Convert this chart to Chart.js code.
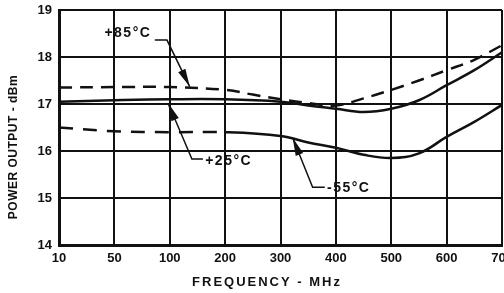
<!DOCTYPE html>
<html>
<head>
<script src="https://cdn.jsdelivr.net/npm/chart.js@4"></script>
<style>
  html, body { margin: 0; padding: 0; background: #fff; }
  #wrap { width: 504px; height: 293px; }
</style>
</head>
<body>
<div id="wrap"><canvas id="powerChart"></canvas></div>
<script>
  // tick labels (MHz), drawn evenly spaced like the original
  const freqTicks = [10, 50, 100, 200, 300, 400, 500, 600, 700];

  // +85 C (dashed)
  const hotFreq = [10, 50, 100, 200, 250, 300, 350, 400, 450, 500, 550, 600, 650, 700];
  const hotPower = [17.35, 17.36, 17.36, 17.3, 17.2, 17.1, 17.02, 16.97, 17.12, 17.3, 17.5, 17.72, 17.94, 18.25];

  // +25 C (solid)
  const roomFreq = [10, 50, 100, 200, 300, 350, 400, 450, 500, 550, 600, 650, 700];
  const roomPower = [17.05, 17.08, 17.1, 17.1, 17.05, 16.97, 16.9, 16.83, 16.9, 17.08, 17.4, 17.72, 18.1];

  // -55 C (dashed at low end, then solid)
  const coldFreq = [10, 50, 100, 200, 300, 350, 400, 450, 500, 550, 600, 650, 700];
  const coldPower = [16.5, 16.42, 16.4, 16.4, 16.32, 16.18, 16.07, 15.92, 15.85, 15.95, 16.3, 16.62, 16.98];

  // piecewise map MHz -> evenly spaced tick position
  function freqToPos(f) {
    for (let i = 0; i < freqTicks.length - 1; i++) {
      if (f <= freqTicks[i + 1]) {
        return i + (f - freqTicks[i]) / (freqTicks[i + 1] - freqTicks[i]);
      }
    }
    return freqTicks.length - 1;
  }

  function toPoints(fs, ps) {
    return fs.map((f, i) => ({x: freqToPos(f), y: ps[i]}));
  }

  const ink = '#111';
  const family = 'Liberation Sans, Arial, sans-serif';
  const font = {family: family, size: 13, weight: 'bold'};

  // curve labels: text spot, leader path and arrow tip, in (tick position, dBm)
  const labels = [
    {text: '+85\u00B0C', at: [0.82, 18.51], path: [[1.73, 18.36], [1.95, 18.36]], tip: [2.36, 17.37]},
    {text: '+25\u00B0C', at: [2.64, 15.79], path: [[2.6, 15.83], [2.4, 15.83]], tip: [1.97, 17.02]},
    {text: '-55\u00B0C', at: [4.84, 15.21], path: [[4.8, 15.23], [4.58, 15.23]], tip: [4.22, 16.28]}
  ];

  const labelPlugin = {
    id: 'curveLabels',
    afterDatasetsDraw(chart) {
      const {ctx, scales: {x, y}} = chart;
      const pt = (p) => [x.getPixelForValue(p[0]), y.getPixelForValue(p[1])];
      ctx.save();
      ctx.strokeStyle = ink;
      ctx.fillStyle = ink;
      ctx.lineWidth = 1.5;
      ctx.font = 'bold 14px ' + family;
      ctx.letterSpacing = '1.5px';
      ctx.textBaseline = 'middle';
      labels.forEach((l) => {
        const t = pt(l.at);
        ctx.fillText(l.text, t[0], t[1]);
        const pts = l.path.map(pt);
        const tip = pt(l.tip);
        ctx.beginPath();
        ctx.moveTo(pts[0][0], pts[0][1]);
        pts.slice(1).forEach((p) => ctx.lineTo(p[0], p[1]));
        ctx.lineTo(tip[0], tip[1]);
        ctx.stroke();
        // arrow head
        const last = pts[pts.length - 1];
        const ang = Math.atan2(tip[1] - last[1], tip[0] - last[0]);
        const len = 18, wid = 4;
        ctx.beginPath();
        ctx.moveTo(tip[0], tip[1]);
        ctx.lineTo(tip[0] - len * Math.cos(ang) + wid * Math.sin(ang), tip[1] - len * Math.sin(ang) - wid * Math.cos(ang));
        ctx.lineTo(tip[0] - len * Math.cos(ang) - wid * Math.sin(ang), tip[1] - len * Math.sin(ang) + wid * Math.cos(ang));
        ctx.closePath();
        ctx.fill();
      });

      // axis titles (wider spacing than Chart.js titles allow)
      ctx.textAlign = 'center';
      ctx.font = 'bold 13px ' + family;
      ctx.letterSpacing = '2px';
      ctx.fillText('FREQUENCY - MHz', 267, 282);
      ctx.letterSpacing = '0.5px';
      ctx.font = 'bold 12px ' + family;
      ctx.translate(14, 147);
      ctx.rotate(-Math.PI / 2);
      ctx.fillText('POWER OUTPUT - dBm', 0, 0);
      ctx.restore();
    }
  };

  const coldDashEnd = freqToPos(200);

  new Chart('powerChart', {
    type: 'line',
    data: {
      datasets: [
        {
          label: '+85 C',
          data: toPoints(hotFreq, hotPower),
          borderColor: ink,
          borderWidth: 2.5,
          borderDash: [13, 8],
          pointRadius: 0,
          tension: 0.4,
          fill: false
        },
        {
          label: '+25 C',
          data: toPoints(roomFreq, roomPower),
          borderColor: ink,
          borderWidth: 2.5,
          pointRadius: 0,
          tension: 0.4,
          fill: false
        },
        {
          label: '-55 C',
          data: toPoints(coldFreq, coldPower),
          borderColor: ink,
          borderWidth: 2.5,
          pointRadius: 0,
          tension: 0.4,
          fill: false,
          segment: {
            borderDash: (c) => c.p1.parsed.x <= coldDashEnd ? [14, 10] : undefined
          }
        }
      ]
    },
    options: {
      responsive: true,
      maintainAspectRatio: false,
      animation: false,
      layout: {padding: {top: 10, right: 2, left: 0, bottom: 0}},
      plugins: {
        legend: {display: false},
        tooltip: {enabled: false}
      },
      scales: {
        x: {
          type: 'linear',
          min: 0,
          max: freqTicks.length - 1,
          afterFit(s) { s.height = 48; s.paddingRight = 0; s.paddingLeft = 0; },
          ticks: {
            stepSize: 1,
            color: ink,
            font: font,
            padding: 6,
            callback: (v) => freqTicks[v]
          },
          grid: {color: ink, lineWidth: 2, drawTicks: false},
          border: {color: ink, width: 3}
        },
        y: {
          min: 14,
          max: 19,
          afterFit(s) { s.width = 59; s.paddingTop = 0; s.paddingBottom = 0; },
          ticks: {
            stepSize: 1,
            color: ink,
            font: font,
            padding: 7
          },
          grid: {color: ink, lineWidth: 2, drawTicks: false},
          border: {color: ink, width: 3}
        }
      }
    },
    plugins: [labelPlugin]
  });
</script>
</body>
</html>
